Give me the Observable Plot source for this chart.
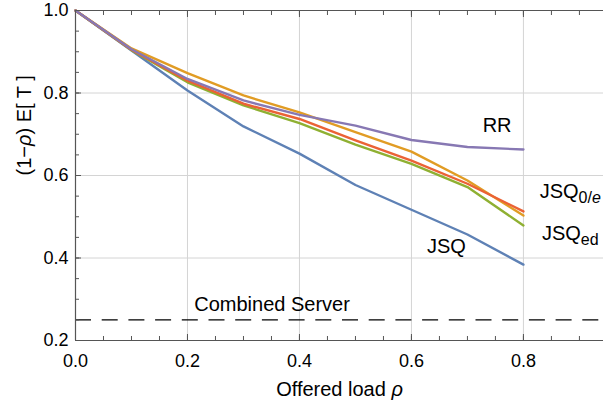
<!DOCTYPE html>
<html>
<head>
<meta charset="utf-8">
<script src="https://cdn.jsdelivr.net/npm/d3@7"></script>
<script src="https://cdn.jsdelivr.net/npm/@observablehq/plot@0.6"></script>
<style>
  html, body { margin: 0; padding: 0; background: #fff; }
  #chart svg { display: block; }
</style>
</head>
<body>
<div id="chart"></div>
<script>
// ---- data ----
const load = [0, 0.1, 0.2, 0.3, 0.4, 0.5, 0.6, 0.7, 0.8];
const jsq      = [1, 0.903, 0.806, 0.719, 0.653, 0.577, 0.517, 0.457, 0.384];
const jsq0e    = [1, 0.908, 0.848, 0.794, 0.753, 0.705, 0.658, 0.588, 0.503];
const jsqEd    = [1, 0.904, 0.826, 0.770, 0.727, 0.675, 0.628, 0.572, 0.479];
const jsqOther = [1, 0.905, 0.830, 0.774, 0.737, 0.685, 0.636, 0.580, 0.513];
const rr       = [1, 0.906, 0.834, 0.782, 0.747, 0.721, 0.686, 0.669, 0.663];
const combinedServer = 0.25;

const seriesNames = ["JSQ", "JSQ0e", "JSQed", "JSQother", "RR"];
const seriesValues = [jsq, jsq0e, jsqEd, jsqOther, rr];
const seriesColors = ["#5E81B5", "#E19C24", "#8FB032", "#EB6235", "#8778B3"];

const xMajor = [0, 0.2, 0.4, 0.6, 0.8];
const yMajor = [0.2, 0.4, 0.6, 0.8, 1.0];
const xMinor = d3.range(0, 0.94, 0.05).map(v => +v.toFixed(2));
const yMinor = d3.range(0.2, 1.001, 0.05).map(v => +v.toFixed(2));

// annotations
const labelsCentered = [
  {text: "RR", x: 0.753, y: 0.721},
  {text: "JSQ", x: 0.6625, y: 0.427},
  {text: "Combined Server", x: 0.351, y: 0.288}
];
const labelsLeft = [
  {text: "JSQ_0/*e*", x: 0.829, y: 0.561},
  {text: "JSQ_ed", x: 0.833, y: 0.459}
];

const rows = seriesNames.flatMap((name, i) =>
  load.map((x, j) => ({series: name, x, y: seriesValues[i][j]})));

const frameColor = "#555";

const plot = Plot.plot({
  width: 603,
  height: 411,
  marginLeft: 75,
  marginRight: 0,
  marginTop: 10,
  marginBottom: 71,
  style: {fontFamily: "'Liberation Sans', Arial, Helvetica, sans-serif", fontSize: "18px", background: "#fff", color: "#000"},
  x: {domain: [0, 0.943], label: null},
  y: {domain: [0.2, 1.0], label: null},
  color: {domain: seriesNames, range: seriesColors},
  marks: [
    Plot.gridX(xMajor.filter(d => d > 0), {stroke: "#d4d4d4", strokeOpacity: 1}),
    Plot.gridY(yMajor.filter(d => d > 0.2 && d < 1), {stroke: "#d4d4d4", strokeOpacity: 1}),
    Plot.ruleY([combinedServer], {stroke: "#000", strokeWidth: 1.1, strokeDasharray: "16,10.7"}),
    Plot.line(rows, {x: "x", y: "y", z: "series", stroke: "series", strokeWidth: 2.4}),
    // frame lines
    Plot.ruleX([0], {stroke: frameColor, strokeWidth: 1.2}),
    Plot.ruleY([0.2], {stroke: frameColor, strokeWidth: 1.2}),
    Plot.ruleY([1.0], {stroke: frameColor, strokeWidth: 1.2}),
    // inward ticks
    Plot.axisX(xMajor, {anchor: "bottom", tickSize: -6, text: null, stroke: frameColor}),
    Plot.axisX(xMinor, {anchor: "bottom", tickSize: -4, text: null, stroke: frameColor}),
    Plot.axisX(xMajor, {anchor: "top", tickSize: -6, text: null, stroke: frameColor}),
    Plot.axisX(xMinor, {anchor: "top", tickSize: -4, text: null, stroke: frameColor}),
    Plot.axisY(yMajor, {anchor: "left", tickSize: -6, text: null, stroke: frameColor}),
    Plot.axisY(yMinor, {anchor: "left", tickSize: -4, text: null, stroke: frameColor}),
    // tick labels
    Plot.axisX(xMajor, {anchor: "bottom", tickSize: 0, tickPadding: 14, tickFormat: d3.format(".1f"), fontSize: 18, fill: "#000", label: null}),
    Plot.axisY(yMajor, {anchor: "left", tickSize: 0, tickPadding: 7, tickFormat: d3.format(".1f"), fontSize: 18, fill: "#000", label: null}),
    // axis titles
    Plot.text(["Offered load *ρ*"], {frameAnchor: "bottom", dy: 55, fontSize: 20, fill: "#000"}),
    Plot.text(["(1−*ρ*) E[ T ]"], {frameAnchor: "left", dx: -51, rotate: -90, fontSize: 20, fill: "#000"}),
    // annotations
    Plot.text(labelsCentered, {x: "x", y: "y", text: "text", textAnchor: "middle", fontSize: 20, fill: "#000"}),
    Plot.text(labelsLeft, {x: "x", y: "y", text: "text", textAnchor: "start", fontSize: 20, fill: "#000"})
  ]
});

// rich text: "_" starts a subscript, *...* is italic
const NS = "http://www.w3.org/2000/svg";
function appendMarkup(parent, str) {
  str.split(/(\*[^*]+\*)/).forEach(part => {
    if (!part) return;
    if (part.startsWith("*") && part.endsWith("*")) {
      const ts = document.createElementNS(NS, "tspan");
      ts.setAttribute("font-style", "italic");
      ts.textContent = part.slice(1, -1);
      parent.appendChild(ts);
    } else {
      parent.appendChild(document.createTextNode(part));
    }
  });
}
d3.select(plot).selectAll("text").each(function () {
  const s = this.textContent;
  if (!/[*_]/.test(s) || this.querySelector("tspan")) return;
  const i = s.indexOf("_");
  const base = i < 0 ? s : s.slice(0, i);
  const sub = i < 0 ? null : s.slice(i + 1);
  this.textContent = "";
  appendMarkup(this, base);
  if (sub) {
    const ts = document.createElementNS(NS, "tspan");
    ts.setAttribute("font-size", "16");
    ts.setAttribute("dy", "5");
    appendMarkup(ts, sub);
    this.appendChild(ts);
  }
});

document.getElementById("chart").appendChild(plot);
</script>
</body>
</html>
